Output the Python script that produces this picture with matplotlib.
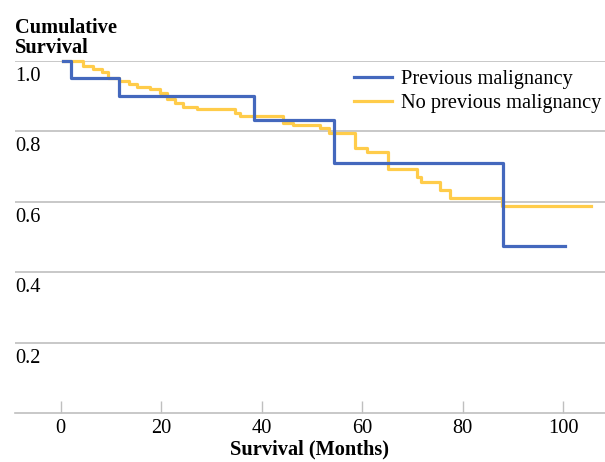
import matplotlib
matplotlib.use("Agg")
import matplotlib.pyplot as plt
import matplotlib.transforms as mtransforms

plt.rcParams['font.family'] = ['Liberation Serif', 'DejaVu Serif']

# Kaplan-Meier steps: (time in months, survival after the step)
prev_t = [0.5, 2.1, 11.5, 38.5, 54.3, 88.1, 100.4]
prev_s = [1.0, 0.951, 0.901, 0.833, 0.711, 0.475, 0.475]

noprev_t = [0.5, 4.5, 6.5, 8.2, 9.5, 11.6, 13.5, 15.1, 17.8, 19.8, 21.1, 22.7,
            24.4, 27.1, 34.7, 35.7, 44.3, 46.3, 51.6, 53.3, 58.6, 61.0, 65.1,
            70.8, 71.6, 75.5, 77.5, 87.8, 105.5]
noprev_s = [1.0, 0.987, 0.977, 0.968, 0.953, 0.943, 0.934, 0.925, 0.920, 0.910,
            0.892, 0.882, 0.870, 0.863, 0.852, 0.843, 0.825, 0.818, 0.809, 0.795,
            0.752, 0.741, 0.694, 0.672, 0.657, 0.633, 0.612, 0.588, 0.588]

x_ticks = [0, 20, 40, 60, 80, 100]
y_ticks = [0.2, 0.4, 0.6, 0.8, 1.0]

blue = '#4468BD'
gold = '#FFCC4A'
grey = '#BFBFBF'
fs = 14.7

W, H = 605, 462
fig = plt.figure(figsize=(W / 100, H / 100), dpi=100)
ax = fig.add_axes([15 / W, (H - 413.3) / H, 590 / W, 352.3 / H])

ax.step(noprev_t, noprev_s, where='post', color=gold, lw=2.3,
        label='No previous malignancy', clip_on=False, zorder=3)
ax.step(prev_t, prev_s, where='post', color=blue, lw=2.3,
        label='Previous malignancy', clip_on=False, zorder=4)

ax.set_xlim(-9.1, 108.3)
ax.set_ylim(0, 1.0)

for s in ['top', 'right', 'left']:
    ax.spines[s].set_visible(False)
ax.spines['bottom'].set_color(grey)
ax.spines['bottom'].set_linewidth(1.2)

ax.set_xticks(x_ticks)
ax.tick_params(axis='x', direction='in', length=9, width=1.0, color=grey,
               labelsize=fs, pad=4)
ax.set_yticks(y_ticks)
ax.set_yticklabels([])
ax.tick_params(axis='y', length=0)
ax.grid(axis='y', color=grey, lw=1.2)
ax.set_axisbelow(True)

# y labels sit left-aligned just under their gridline
trans = mtransforms.blended_transform_factory(ax.transAxes, ax.transData)
off = mtransforms.ScaledTranslation(0.005, -0.20, fig.dpi_scale_trans)
for v in y_ticks:
    ax.text(0, v, f'{v:.1f}', transform=trans + off, fontsize=fs,
            ha='left', va='baseline')

ax.set_xlabel('Survival (Months)', fontsize=fs, fontweight='bold', labelpad=1)

fig.text(15 / W, 1 - 33 / H, 'Cumulative', fontsize=fs, fontweight='bold',
         va='baseline')
fig.text(15 / W, 1 - 53 / H, 'Survival', fontsize=fs, fontweight='bold',
         va='baseline')

handles, labels = ax.get_legend_handles_labels()
ax.legend(handles[::-1], labels[::-1], loc='upper left',
          bbox_to_anchor=(354 / W, 1 - 70 / H), bbox_transform=fig.transFigure,
          frameon=False, fontsize=fs, handlelength=1.85, handletextpad=0.45,
          labelspacing=0.2, borderpad=0, borderaxespad=0)

fig.savefig('out.png', dpi=100)
